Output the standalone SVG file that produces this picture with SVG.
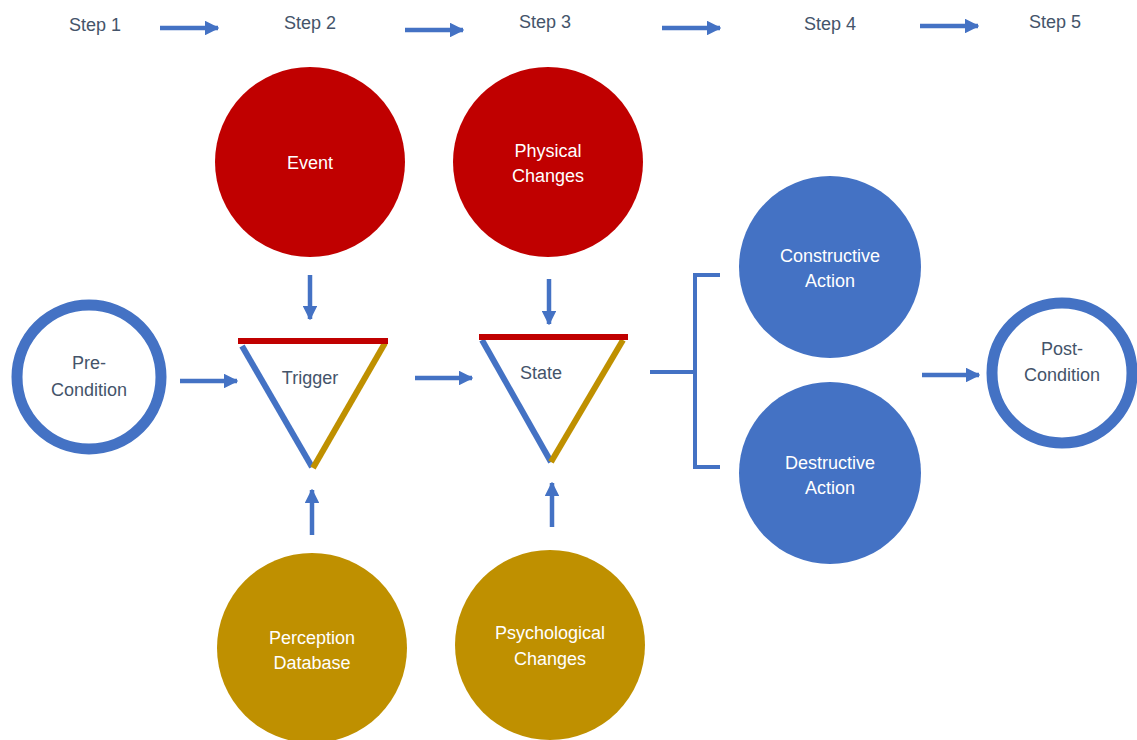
<svg xmlns="http://www.w3.org/2000/svg" width="1137" height="740" viewBox="0 0 1137 740">
  <defs>
    <marker id="ah" viewBox="0 0 10 10" refX="9" refY="5" markerWidth="3.3" markerHeight="3.3" orient="auto" markerUnits="strokeWidth">
      <path d="M0,0 L10,5 L0,10 z" fill="#4472C4"/>
    </marker>
    <style>
      .lbl { font-family: "Liberation Sans", Arial, sans-serif; font-size: 18px; fill: #44546A; text-anchor: middle; }
      .wt { font-family: "Liberation Sans", Arial, sans-serif; font-size: 18px; fill: #FFFFFF; text-anchor: middle; }
      .arr { stroke: #4472C4; stroke-width: 4.5; fill: none; marker-end: url(#ah); }
      .red { fill: #C00000; }
      .blue { fill: #4472C4; }
      .gold { fill: #BF9000; }
      .ring { fill: #FFFFFF; stroke: #4472C4; stroke-width: 11; }
    </style>
  </defs>
  <rect width="1137" height="740" fill="#FFFFFF"/>

  <!-- step headings -->
  <g id="steps">
    <text class="lbl" x="95" y="31">Step 1</text>
    <text class="lbl" x="310" y="29">Step 2</text>
    <text class="lbl" x="545" y="28">Step 3</text>
    <text class="lbl" x="830" y="30">Step 4</text>
    <text class="lbl" x="1055" y="28">Step 5</text>
  </g>

  <g id="pre-condition">
    <circle class="ring" cx="89" cy="377" r="72"/>
    <text class="lbl" x="89" y="369">Pre-</text>
    <text class="lbl" x="89" y="396">Condition</text>
  </g>

  <g id="event">
    <circle class="red" cx="310" cy="162" r="95"/>
    <text class="wt" x="310" y="169">Event</text>
  </g>

  <g id="physical-changes">
    <circle class="red" cx="548" cy="162" r="95"/>
    <text class="wt" x="548" y="157">Physical</text>
    <text class="wt" x="548" y="182">Changes</text>
  </g>

  <g id="trigger">
    <line x1="242" y1="346" x2="312" y2="467" stroke="#4472C4" stroke-width="6"/>
    <line x1="385" y1="343" x2="313" y2="468" stroke="#BF9000" stroke-width="6"/>
    <line x1="238" y1="341" x2="388" y2="341" stroke="#C00000" stroke-width="6"/>
    <text class="lbl" x="310" y="384">Trigger</text>
  </g>

  <g id="state">
    <line x1="482" y1="340" x2="551" y2="462" stroke="#4472C4" stroke-width="6"/>
    <line x1="623" y1="340" x2="551" y2="462" stroke="#BF9000" stroke-width="6"/>
    <line x1="479" y1="337" x2="628" y2="337" stroke="#C00000" stroke-width="6"/>
    <text class="lbl" x="541" y="379">State</text>
  </g>

  <g id="perception-database">
    <circle class="gold" cx="312" cy="648" r="95"/>
    <text class="wt" x="312" y="644">Perception</text>
    <text class="wt" x="312" y="669">Database</text>
  </g>

  <g id="psychological-changes">
    <circle class="gold" cx="550" cy="645" r="95"/>
    <text class="wt" x="550" y="639">Psychological</text>
    <text class="wt" x="550" y="665">Changes</text>
  </g>

  <g id="constructive-action">
    <circle class="blue" cx="830" cy="267" r="91"/>
    <text class="wt" x="830" y="262">Constructive</text>
    <text class="wt" x="830" y="287">Action</text>
  </g>

  <g id="destructive-action">
    <circle class="blue" cx="830" cy="473" r="91"/>
    <text class="wt" x="830" y="469">Destructive</text>
    <text class="wt" x="830" y="494">Action</text>
  </g>

  <g id="post-condition">
    <circle class="ring" cx="1062" cy="373" r="70"/>
    <text class="lbl" x="1062" y="355">Post-</text>
    <text class="lbl" x="1062" y="381">Condition</text>
  </g>

  <!-- connectors -->
  <g id="connectors">
    <line class="arr" x1="160" y1="28" x2="218" y2="28"/>
    <line class="arr" x1="405" y1="30" x2="463" y2="30"/>
    <line class="arr" x1="662" y1="28" x2="720" y2="28"/>
    <line class="arr" x1="920" y1="26" x2="978" y2="26"/>

    <line class="arr" x1="310" y1="275" x2="310" y2="319"/>
    <line class="arr" x1="312" y1="535" x2="312" y2="490"/>
    <line class="arr" x1="549" y1="279" x2="549" y2="324"/>
    <line class="arr" x1="552" y1="527" x2="552" y2="483"/>

    <line class="arr" x1="180" y1="381" x2="237" y2="381"/>
    <line class="arr" x1="415" y1="378" x2="472" y2="378"/>
    <line class="arr" x1="922" y1="375" x2="979" y2="375"/>

    <path d="M650,372 H695 M720,275 H695 V467 H720" stroke="#4472C4" stroke-width="4" fill="none"/>
  </g>
</svg>
